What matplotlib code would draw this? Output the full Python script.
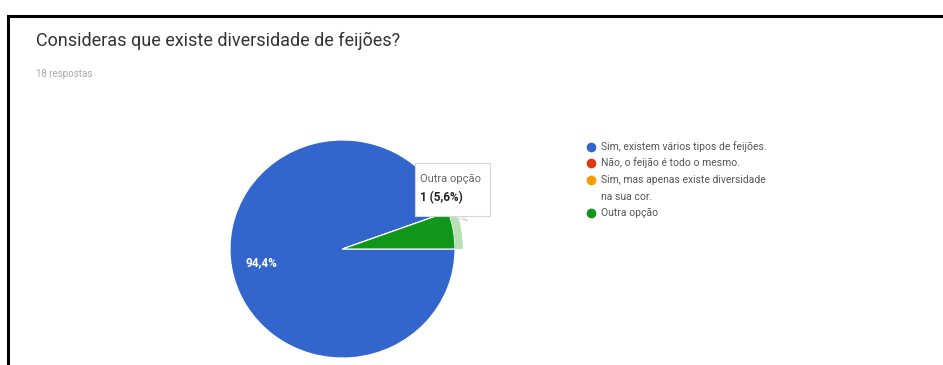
import matplotlib
matplotlib.use("Agg")
import matplotlib.pyplot as plt
from matplotlib.patches import Wedge, Rectangle, Polygon

plt.rcParams['font.family'] = ['Roboto', 'DejaVu Sans']

# Survey data
title = "Consideras que existe diversidade de feijões?"
subtitle = "18 respostas"
categories = [
    "Sim, existem vários tipos de feijões.",
    "Não, o feijão é todo o mesmo.",
    "Sim, mas apenas existe diversidade\nna sua cor.",
    "Outra opção",
]
counts = [17, 0, 0, 1]
colors = ["#3366cc", "#dc3912", "#ff9900", "#109618"]
highlight_color = "#b9dfb5"
highlighted = 3  # slice with the hover tooltip

W, H = 943, 365
fig = plt.figure(figsize=(W / 100, H / 100), dpi=100)
fig.patch.set_facecolor("white")

total = sum(counts)


def pct_label(p):
    return f"{p:.1f}%".replace(".", ",") if p > 10 else ""


# Pie, placed in pixel terms
pl, pr, pt, pb = 230, 455, 140, 358
ax = fig.add_axes([pl / W, (H - pb) / H, (pr - pl) / W, (pb - pt) / H], zorder=1)
wedges, _, autotexts = ax.pie(
    counts, colors=colors, startangle=0, counterclock=False,
    autopct=pct_label, pctdistance=0.73,
    wedgeprops=dict(edgecolor="white", linewidth=0.8),
    textprops=dict(color="white", fontsize=8.5, fontweight="bold"),
)
# hover ring around the highlighted slice
w = wedges[highlighted]
ring = Wedge((0, 0), 1.07, w.theta1, w.theta2, width=0.07,
             facecolor=highlight_color, edgecolor="none", clip_on=False)
ax.add_patch(ring)
ax.set_xlim(-1, 1)
ax.set_ylim(-1, 1)
ax.set_aspect("auto")
ax.axis("off")

# Overlay in pixel coordinates for title, legend, tooltip and frame
ov = fig.add_axes([0, 0, 1, 1], zorder=3)
ov.set_xlim(0, W)
ov.set_ylim(H, 0)
ov.axis("off")
ov.patch.set_alpha(0)

ov.text(36, 46, title, fontsize=13, color="#333333", va="baseline")
ov.text(36, 77, subtitle, fontsize=7, color="#a8a8a8", va="baseline")

# Legend: one marker per category, wrapped labels continue on the next row
rows_y = [147, 163, 180, 213]
line_step = 17
for y, label, c in zip(rows_y, categories, colors):
    ov.plot([591], [y], marker="o", markersize=7, color=c, markeredgewidth=0)
    for k, part in enumerate(label.split("\n")):
        ov.text(601, y + k * line_step, part, fontsize=7.5, color="#555555",
                va="center")

# Tooltip
ov.add_patch(Polygon([[446, 215], [460, 215], [468, 221]], closed=True,
                     facecolor="white", edgecolor="#d0d0d0", lw=0.6, zorder=4))
ov.add_patch(Rectangle((415, 163), 75, 53, facecolor="white",
                       edgecolor="#d6d6d6", lw=0.8, zorder=5))
pct = counts[highlighted] / total * 100
ov.text(420, 182, categories[highlighted], fontsize=8, color="#666666",
        va="baseline", zorder=6)
ov.text(420, 201, f"{counts[highlighted]} ({pct:.1f}%)".replace(".", ","),
        fontsize=8.5, color="#222222", fontweight="bold", va="baseline", zorder=6)

# Outer frame
ov.plot([8, 8, W], [H, 16, 16], color="black", lw=2.2, solid_joinstyle="miter")

fig.savefig("out.png", dpi=100)
